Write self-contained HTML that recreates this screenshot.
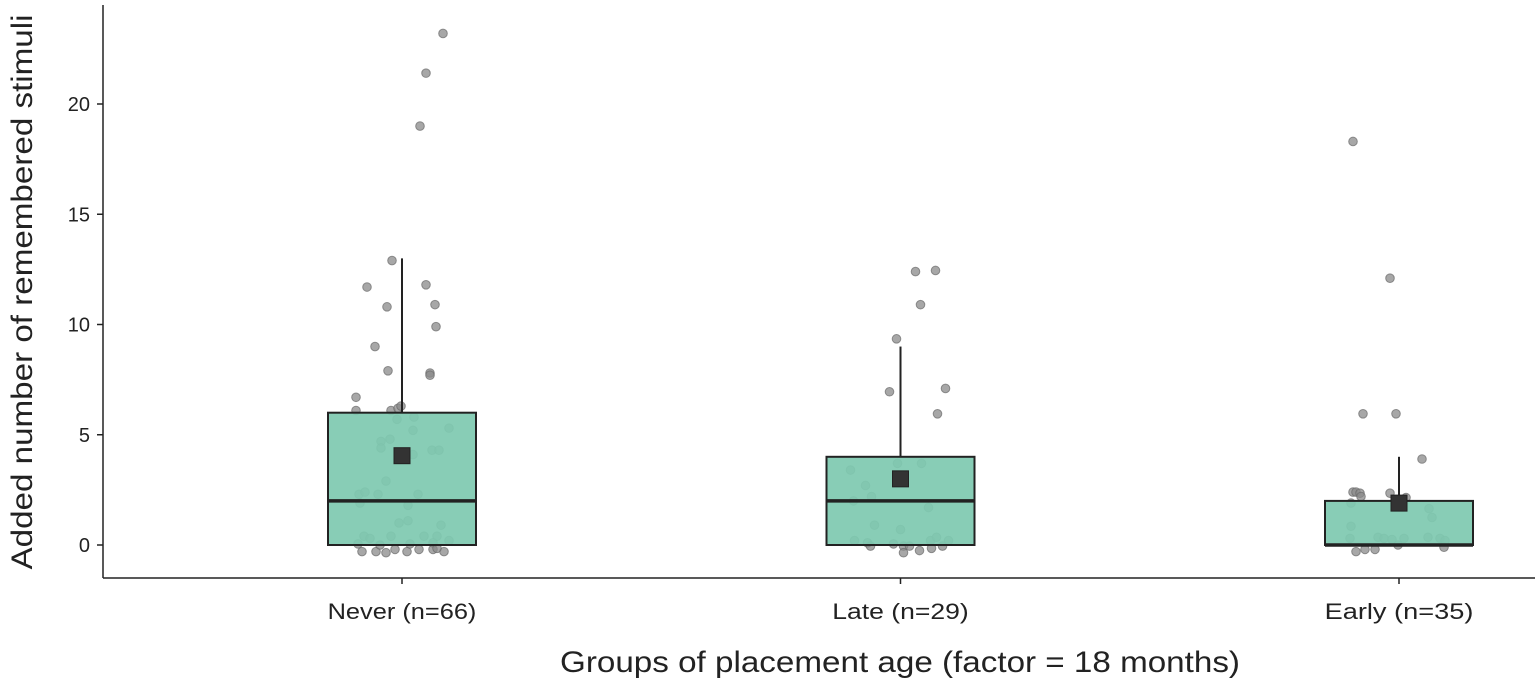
<!DOCTYPE html>
<html><head><meta charset="utf-8"><style>
body{margin:0;background:#fff;}
svg{display:block;font-family:"Liberation Sans",Arial,sans-serif;}
</style></head><body>
<svg id="chart" width="1535" height="684">
<g id="pts"></g>
<g id="boxes"></g>
<g id="axes"></g>
</svg>
<script>
const categories=["Never (n=66)","Late (n=29)","Early (n=35)"];
const q1=[0,0,0];
const medians=[2,2,0];
const q3=[6,4,2];
const whiskerHigh=[13,9,4];
const means=[4.05,3.0,1.9];
const yTicks=[0,5,10,15,20];
const neverVals=[23.2,21.4,19.0,12.9,11.7,11.8,10.8,10.9,9.9,9.0,7.9,7.8,7.7,6.7,6.1,6.1,6.2,6.3,5.7,5.8,5.3,5.2,4.7,4.8,4.4,4.3,4.3,4.1,2.9,2.3,2.4,2.3,2.3,1.9,1.8,1.0,1.1,0.9,0.4,0.3,0.4,0.4,0.4,0.2,0.05,0.1,-0.3,-0.3,-0.35,-0.3,-0.2,-0.2,-0.3,-0.15,0.05,0,-0.2];
const neverJit=[41,24,18,-10,-35,24,-15,33,34,-27,-14,28,28,-46,-46,-11,-4,-1,-5,12,47,11,-21,-12,-21,30,37,11,-16,-43,-37,-24,16,-42,6,-3,6,39,-38,-32,-11,22,35,47,-44,31,-40,-26,-16,5,17,31,42,35,8,-22,-7];
const lateVals=[12.4,12.45,10.9,9.35,6.95,7.1,5.95,3.7,3.7,3.4,2.7,2.2,2.0,1.7,0.9,0.7,0.2,0.1,-0.05,0.05,-0.05,-0.05,0.2,0.35,0.2,-0.25,-0.15,-0.05,-0.35];
const lateJit=[15,35,20,-4,-11,45,37,-3,21,-50,-35,-29,-47,28,-26,0,-46,-33,-30,-7,3,9,30,36,48,19,31,42,3];
const earlyVals=[18.3,12.1,5.95,5.95,3.9,2.4,2.4,2.35,2.2,2.35,2.15,1.9,1.65,1.25,0.85,0.3,0.35,0.3,0.25,0.3,0.3,0.35,0.2,-0.3,-0.2,-0.2,-0.1,0];
const earlyJit=[-46,-9,-36,-3,23,-46,-43,-39,-38,-9,7,-48,30,33,-48,-49,-21,-15,-7,5,41,29,46,-43,-34,-24,45,-1];
const groupVals=[neverVals,lateVals,earlyVals];
const groupJit=[neverJit,lateJit,earlyJit];

const NS="http://www.w3.org/2000/svg";
const y0=545,ppu=22.05;
function ys(v){return y0-v*ppu;}
function xs(i){return 402+i*498.5;}
const boxW=148;
function mk(tag,attrs,parent){const e=document.createElementNS(NS,tag);for(const k in attrs)e.setAttribute(k,attrs[k]);parent.appendChild(e);return e;}
const pts=document.getElementById('pts'),boxes=document.getElementById('boxes'),axes=document.getElementById('axes');
groupVals.forEach((vals,g)=>{
  vals.forEach((v,j)=>{
    const c=mk('circle',{cx:xs(g)+groupJit[g][j],cy:ys(v),r:4.3,fill:'#8a8a8a','fill-opacity':0.75,stroke:'#6a6a6a','stroke-opacity':0.7,'stroke-width':1},pts);
    
    
  });
});
categories.forEach((c,i)=>{
  const cx=xs(i);
  const w=mk('line',{x1:cx,x2:cx,y1:ys(q3[i]),y2:ys(whiskerHigh[i]),stroke:'#222','stroke-width':2},boxes);
  
  
  const b=mk('rect',{x:cx-boxW/2,y:ys(q3[i]),width:boxW,height:ys(q1[i])-ys(q3[i]),fill:'#7fc9b0','fill-opacity':0.93,stroke:'#222','stroke-width':2},boxes);
  
  
  const m=mk('line',{x1:cx-boxW/2,x2:cx+boxW/2,y1:ys(medians[i]),y2:ys(medians[i]),stroke:'#222','stroke-width':3.5},boxes);
  
  
  const mm=mk('rect',{x:cx-8,y:ys(means[i])-8,width:16,height:16,fill:'#333',stroke:'#222','stroke-width':1},boxes);
  
  
  const tk=mk('line',{x1:cx,x2:cx,y1:578,y2:584,stroke:'#222','stroke-width':1.5},axes);
  
  
  const t=mk('text',{x:cx,y:619,'text-anchor':'middle','font-size':22,fill:'#222',textLength:c.length*12.4,lengthAdjust:'spacingAndGlyphs'},axes);
  t.textContent=c;
  
  
});
yTicks.forEach(v=>{
  const tk=mk('line',{x1:97,x2:103,y1:ys(v),y2:ys(v),stroke:'#222','stroke-width':1.5},axes);
  
  
  const t=mk('text',{x:90,y:ys(v)+7,'text-anchor':'end','font-size':20,fill:'#222'},axes);
  t.textContent=v;
  
  
});
const ya=mk('line',{x1:103,x2:103,y1:5,y2:578,stroke:'#222','stroke-width':1.5},axes);


const xa=mk('line',{x1:103,x2:1535,y1:578,y2:578,stroke:'#222','stroke-width':1.5},axes);


const xt=mk('text',{x:900,y:672,'text-anchor':'middle','font-size':30,fill:'#222',textLength:680,lengthAdjust:'spacingAndGlyphs'},axes);
xt.textContent="Groups of placement age (factor = 18 months)";


const yt=mk('text',{x:0,y:0,'text-anchor':'middle','font-size':30,fill:'#222',textLength:555,lengthAdjust:'spacingAndGlyphs',transform:'translate(32,292) rotate(-90)'},axes);
yt.textContent="Added number of remembered stimuli";


</script>
</body></html>
